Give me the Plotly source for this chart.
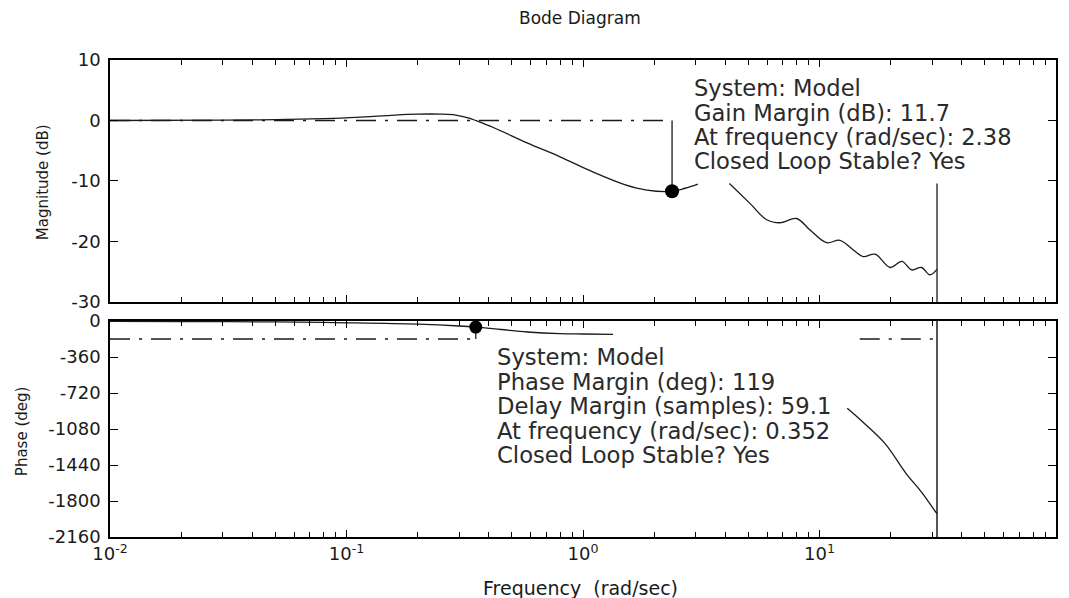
import plotly.graph_objects as go

# ---------------- data ----------------
mag_freq_a = [0.01, 0.03, 0.05, 0.08, 0.11, 0.16, 0.2, 0.25, 0.29, 0.33, 0.352, 0.42, 0.58, 0.8, 1.1, 1.5, 1.86, 2.38, 2.7, 3.06]
mag_db_a = [0.0, 0.05, 0.15, 0.3, 0.5, 0.9, 1.05, 1.05, 0.9, 0.4, 0.0, -1.2, -3.7, -6.0, -8.5, -10.6, -11.5, -11.7, -11.2, -10.5]

mag_freq_b = [4.16, 5.08, 5.98, 6.8, 8.0, 9.12, 10.7, 12.2, 13.9, 15.3, 17.2, 19.9, 22.3, 24.5, 27.0, 29.3, 31.4]
mag_db_b = [-10.4, -13.7, -16.4, -16.9, -16.2, -18.1, -20.2, -19.8, -21.4, -22.5, -22.1, -24.3, -23.3, -24.7, -24.3, -25.5, -24.6]

phase_freq_a = [0.01, 0.02, 0.05, 0.1, 0.2, 0.3, 0.352, 0.45, 0.58, 0.8, 1.0, 1.34]
phase_deg_a = [-3, -5, -9, -18, -32, -50, -61, -85, -110, -127, -130, -133]

phase_freq_b = [13.1, 15.2, 18.9, 23.2, 26.9, 30.9, 31.4]
phase_deg_b = [-873, -1007, -1223, -1523, -1707, -1905, -1925]

gm_freq = 2.38
gm_db = 11.7
pm_freq = 0.352
pm_deg = 119
nyquist_freq = 31.4
mag_ref_start = 0.01
phase_ref_right_start = 14.8
nyq_mag_top = -10.4

mag_ticks = [10, 0, -10, -20, -30]
phase_ticks = [0, -360, -720, -1080, -1440, -1800, -2160]
x_tick_vals = [0.01, 0.1, 1, 10, 100]
x_tick_text = ["10<sup>-2</sup>", "10<sup>-1</sup>", "10<sup>0</sup>", "10<sup>1</sup>", "10<sup>2</sup>"]

gm_text = ["System: Model", "Gain Margin (dB): 11.7", "At frequency (rad/sec): 2.38", "Closed Loop Stable? Yes"]
pm_text = ["System: Model", "Phase Margin (deg): 119", "Delay Margin (samples): 59.1",
           "At frequency (rad/sec): 0.352", "Closed Loop Stable? Yes"]

# ---------------- figure ----------------
INK = "#1a1a1a"
FONT = "DejaVu Sans"
DASHDOT = "20px,9px,3px,9px"

fig = go.Figure()

def line(x, y, xa, ya, dash="solid", width=1.3, shape="linear"):
    fig.add_trace(go.Scatter(x=x, y=y, xaxis=xa, yaxis=ya, mode="lines",
                             line=dict(color=INK, width=width, dash=dash, shape=shape),
                             hoverinfo="skip", showlegend=False))

# magnitude panel
line([mag_ref_start, gm_freq], [0, 0], "x", "y", dash=DASHDOT)
line([gm_freq, gm_freq], [0, -gm_db], "x", "y")
line(mag_freq_a, mag_db_a, "x", "y", shape="spline")
line(mag_freq_b, mag_db_b, "x", "y", shape="spline")
line([nyquist_freq, nyquist_freq], [nyq_mag_top, -30], "x", "y")
fig.add_trace(go.Scatter(x=[gm_freq], y=[-gm_db], xaxis="x", yaxis="y", mode="markers",
                         marker=dict(color="black", size=14), showlegend=False, hoverinfo="skip"))

# phase panel
line([mag_ref_start, pm_freq], [-180, -180], "x2", "y2", dash=DASHDOT)
line([phase_ref_right_start, nyquist_freq], [-180, -180], "x2", "y2", dash=DASHDOT)
line([pm_freq, pm_freq], [-180, -180 + pm_deg], "x2", "y2")
line(phase_freq_a, phase_deg_a, "x2", "y2", shape="spline")
line(phase_freq_b, phase_deg_b, "x2", "y2", shape="spline")
line([nyquist_freq, nyquist_freq], [0, -2160], "x2", "y2", width=1.5)
fig.add_trace(go.Scatter(x=[pm_freq], y=[-180 + pm_deg], xaxis="x2", yaxis="y2", mode="markers",
                         marker=dict(color="black", size=13), showlegend=False, hoverinfo="skip"))

minor_vals = [m * 10 ** e for e in range(-2, 2) for m in range(2, 10)]

xcommon = dict(type="log", range=[-2, 2], showgrid=False, zeroline=False, automargin=False,
               showline=True, linecolor="black", linewidth=1.6, mirror="ticks",
               ticks="inside", ticklen=7, tickcolor="black", tickwidth=1,
               tickvals=x_tick_vals, ticktext=x_tick_text,
               minor=dict(ticks="inside", ticklen=5, tickcolor="black", tickwidth=1,
                          tickvals=minor_vals, showgrid=False))

ycommon = dict(showgrid=False, zeroline=False, showline=True, linecolor="black", linewidth=1.6,
               mirror="ticks", ticks="inside", ticklen=8, tickcolor="black", tickwidth=1,
               ticklabelstandoff=4, automargin=False)

fig.update_layout(
    width=1069, height=598,
    margin=dict(l=110, r=13, t=60, b=61, autoexpand=False),
    paper_bgcolor="white", plot_bgcolor="white",
    font=dict(family=FONT, size=18, color=INK),
    showlegend=False,
    xaxis=dict(**xcommon, domain=[0, 1], anchor="y", showticklabels=False),
    xaxis2=dict(**xcommon, domain=[0, 1], anchor="y2", showticklabels=True,
                tickfont=dict(family=FONT, size=18, color=INK)),
    yaxis=dict(**ycommon, domain=[0.4927, 1], range=[-30, 10], tickvals=mag_ticks,
               ticktext=[str(v) for v in mag_ticks], anchor="x",
               tickfont=dict(family=FONT, size=18, color=INK)),
    yaxis2=dict(**ycommon, domain=[0, 0.4528], range=[-2160, 0], tickvals=phase_ticks,
                ticktext=[str(v) for v in phase_ticks], anchor="x2",
                tickfont=dict(family=FONT, size=18, color=INK)),
)

anns = []
# data-tip texts
gm_y = [5.37, 1.32, -2.73, -6.69]
for t, yv in zip(gm_text, gm_y):
    anns.append(dict(x=0.461, y=yv, xref="x", yref="y", text=t, showarrow=False,
                     xanchor="left", yanchor="middle", font=dict(family=FONT, size=22.6, color="#2a2a2a")))
pm_y = [-360, -605, -850, -1095, -1340]
for t, yv in zip(pm_text, pm_y):
    anns.append(dict(x=-0.372, y=yv, xref="x2", yref="y2", text=t, showarrow=False,
                     xanchor="left", yanchor="middle", font=dict(family=FONT, size=22.7, color="#2a2a2a")))

# titles
anns.append(dict(x=0.4968, y=1.088, xref="paper", yref="paper", text="Bode Diagram", showarrow=False,
                 xanchor="center", yanchor="middle", font=dict(family=FONT, size=17, color=INK)))
anns.append(dict(x=0.4975, y=-0.107, xref="paper", yref="paper", text="Frequency&nbsp; (rad/sec)",
                 showarrow=False, xanchor="center", yanchor="middle", font=dict(family=FONT, size=19, color=INK)))
anns.append(dict(x=-0.0708, y=0.744, xref="paper", yref="paper", text="Magnitude (dB)", textangle=-90,
                 showarrow=False, xanchor="center", yanchor="middle", font=dict(family=FONT, size=15, color=INK)))
anns.append(dict(x=-0.093, y=0.222, xref="paper", yref="paper", text="Phase (deg)", textangle=-90,
                 showarrow=False, xanchor="center", yanchor="middle", font=dict(family=FONT, size=15, color=INK)))
fig.update_layout(annotations=anns)

fig.write_html("out.html", config={"displayModeBar": False},
               post_script="document.body.style.margin='0';document.body.style.overflow='hidden';")
